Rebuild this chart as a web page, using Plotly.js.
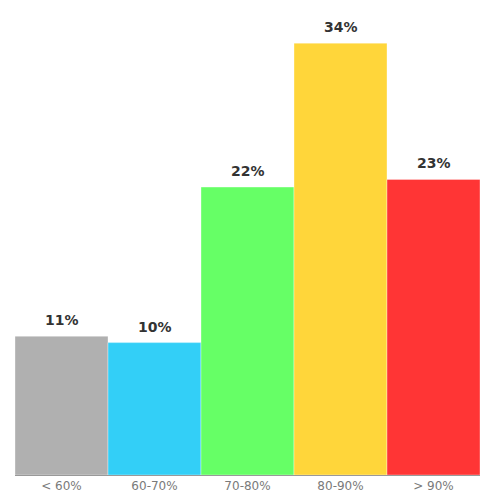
<!DOCTYPE html>
<html>
<head>
<meta charset="utf-8">
<script src="https://cdn.plot.ly/plotly-3.0.1.min.js"></script>
<style>
  html, body { margin: 0; padding: 0; background: #fff; }
  #chart { width: 500px; height: 500px; }
</style>
</head>
<body>
<div id="chart"></div>
<script>
// score bands and share of students in each band (%)
var bands = ['< 60%', '60-70%', '70-80%', '80-90%', '> 90%'];
var shares = [10.8, 10.3, 22.4, 33.6, 23.0];
var barColors = ['#b0b0b0', '#33cff7', '#66ff66', '#ffd63a', '#ff3535'];

var trace = {
  type: 'bar',
  x: bands,
  y: shares,
  marker: {
    color: barColors,
    line: {color: 'rgba(255,255,255,0.35)', width: 1}
  },
  hoverinfo: 'none'
};

// value labels above each bar
var labels = bands.map(function(b, i) {
  return {
    x: b,
    y: shares[i],
    xref: 'x',
    yref: 'y',
    text: Math.round(shares[i]) + '%',
    showarrow: false,
    yanchor: 'bottom',
    yshift: 6,
    font: {family: 'DejaVu Sans', size: 14, color: '#333333', weight: 'bold'}
  };
});

var layout = {
  width: 500,
  height: 500,
  margin: {l: 15, r: 20, t: 20, b: 25},
  paper_bgcolor: '#ffffff',
  plot_bgcolor: '#ffffff',
  bargap: 0,
  showlegend: false,
  font: {family: 'DejaVu Sans'},
  annotations: labels,
  xaxis: {
    showline: true,
    linecolor: '#999999',
    linewidth: 1,
    ticks: '',
    showgrid: false,
    tickfont: {family: 'DejaVu Sans', size: 12, color: '#7a7a7a'}
  },
  yaxis: {
    range: [0, 35.4],
    visible: false,
    showgrid: false,
    zeroline: false
  }
};

Plotly.newPlot('chart', [trace], layout, {displayModeBar: false, staticPlot: true});
</script>
</body>
</html>
